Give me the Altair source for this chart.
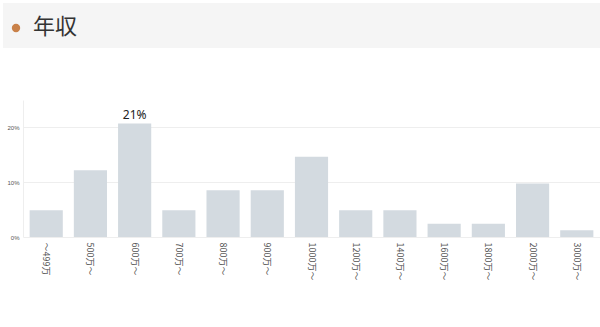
import altair as alt
import pandas as pd

categories = ["～499万", "500万～", "600万～", "700万～", "800万～", "900万～", "1000万～",
              "1200万～", "1400万～", "1600万～", "1800万～", "2000万～", "3000万～"]
counts = [4, 10, 17, 4, 7, 7, 12, 4, 4, 2, 2, 8, 1]
total = sum(counts)
shares = [c / total for c in counts]
title_text = "年収"

df = pd.DataFrame({"cat": categories, "share": shares})
df["label"] = ["{:.0%}".format(s) if s == max(shares) else "" for s in shares]

FONT = "Noto Sans CJK JP"

xenc = alt.X("cat:N", sort=categories,
             scale=alt.Scale(paddingInner=0.25, paddingOuter=0.15),
             axis=alt.Axis(title=None, labelAngle=90, labelFontSize=9, labelColor="#555",
                           labelFont=FONT, ticks=False, domain=False, labelPadding=5,
                           labelAlign="left", labelBaseline="middle", grid=False))
yenc = alt.Y("share:Q", scale=alt.Scale(domain=[0, 0.25], nice=False),
             axis=alt.Axis(title=None, values=[0, 0.1, 0.2], format=".0%", labelFontSize=6,
                           labelColor="#555", ticks=False, domainColor="#eeeeee",
                           gridColor="#eeeeee", labelPadding=4))

bars = alt.Chart(df).mark_bar(color="#d3dae0").encode(x=xenc, y=yenc)
text = alt.Chart(df).mark_text(dy=-8, fontSize=12, color="#222", font="Noto Sans").encode(
    x=alt.X("cat:N", sort=categories), y=alt.Y("share:Q"), text="label:N")

hdr = pd.DataFrame({"t": [title_text]})
header = alt.Chart(hdr).mark_rect(color="#f5f5f5").encode(
    x=alt.value(-20), x2=alt.value(577), y=alt.value(-97), y2=alt.value(-52))
dot = alt.Chart(hdr).mark_point(filled=True, color="#c98149", size=70, opacity=1).encode(
    x=alt.value(-7), y=alt.value(-72))
ttl = alt.Chart(hdr).mark_text(align="left", baseline="middle", fontSize=22, color="#333",
                               font=FONT).encode(x=alt.value(10), y=alt.value(-73), text="t:N")

chart = alt.layer(header, dot, ttl, bars, text).properties(
    width=577, height=137, autosize=alt.AutoSizeParams(type="none"), background="white",
    padding={"left": 23, "top": 100, "right": 0, "bottom": 90}
).configure_view(strokeWidth=0)

chart.save("out.html", embed_options={"renderer": "svg", "actions": False})
